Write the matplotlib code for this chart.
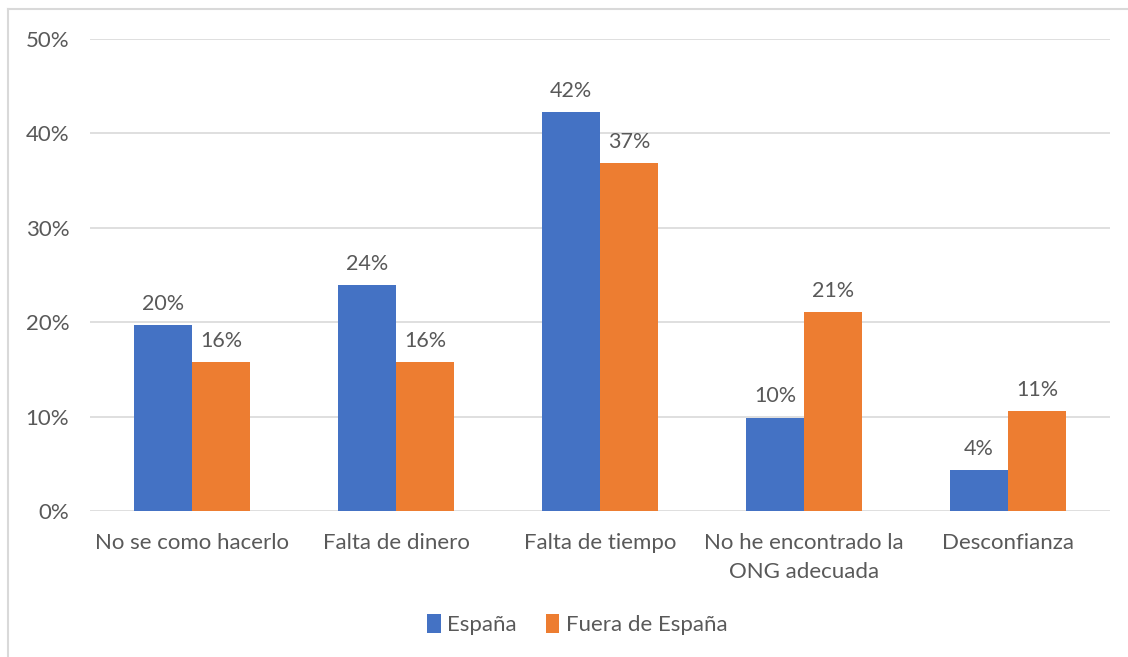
import numpy as np
import matplotlib.pyplot as plt
from matplotlib.lines import Line2D

categories = ["No se como hacerlo", "Falta de dinero", "Falta de tiempo",
              "No he encontrado la\nONG adecuada", "Desconfianza"]
espana = [0.197, 0.239, 0.423, 0.099, 0.043]
fuera = [0.158, 0.158, 0.369, 0.211, 0.106]
series_names = ["España", "Fuera de España"]

BLUE = "#4472c4"
ORANGE = "#ed7d31"
GREY = "#595959"
FONT = "Lato"

plt.rcParams["font.family"] = [FONT, "DejaVu Sans"]

fig = plt.figure(figsize=(11.28, 6.57), dpi=100)
ax = fig.add_axes([0.0798, 0.2222, 0.9042, 0.7184])

x = np.arange(len(categories))
w = 0.284
b1 = ax.bar(x - w / 2, espana, w, color=BLUE, zorder=3)
b2 = ax.bar(x + w / 2, fuera, w, color=ORANGE, zorder=3)

for bars in (b1, b2):
    for r in bars:
        h = r.get_height()
        ax.annotate(f"{h * 100:.0f}%", (r.get_x() + r.get_width() / 2, h),
                    xytext=(0, 8), textcoords="offset points",
                    ha="center", va="bottom", fontsize=15.5, color=GREY)

ax.set_xlim(-0.5, len(categories) - 0.5)
ax.set_ylim(0, 0.5)
ax.set_yticks(np.arange(0, 0.51, 0.1))
ax.set_yticklabels([f"{int(round(v * 100))}%" for v in np.arange(0, 0.51, 0.1)])
ax.set_xticks(x)
ax.set_xticklabels(categories, linespacing=1.55)
ax.tick_params(axis="both", length=0, labelsize=16, colors=GREY)
ax.tick_params(axis="y", pad=15)
ax.tick_params(axis="x", pad=16)
ax.grid(axis="y", color="#d9d9d9", lw=1.2, zorder=0)
for s in ax.spines.values():
    s.set_visible(False)

fig.legend([b1, b2], series_names, loc="center", bbox_to_anchor=(0.512, 0.049),
           ncol=2, frameon=False, fontsize=16, labelcolor=GREY,
           handlelength=0.6, handleheight=0.9, handletextpad=0.3, columnspacing=1.3)

# chart frame
fig.add_artist(Line2D([8 / 1128, 1], [1 - 9 / 657, 1 - 9 / 657], color="#d9d9d9", lw=1.5))
fig.add_artist(Line2D([8 / 1128, 8 / 1128], [0, 1 - 9 / 657], color="#d9d9d9", lw=1.5))

fig.savefig("out.png", dpi=100)
